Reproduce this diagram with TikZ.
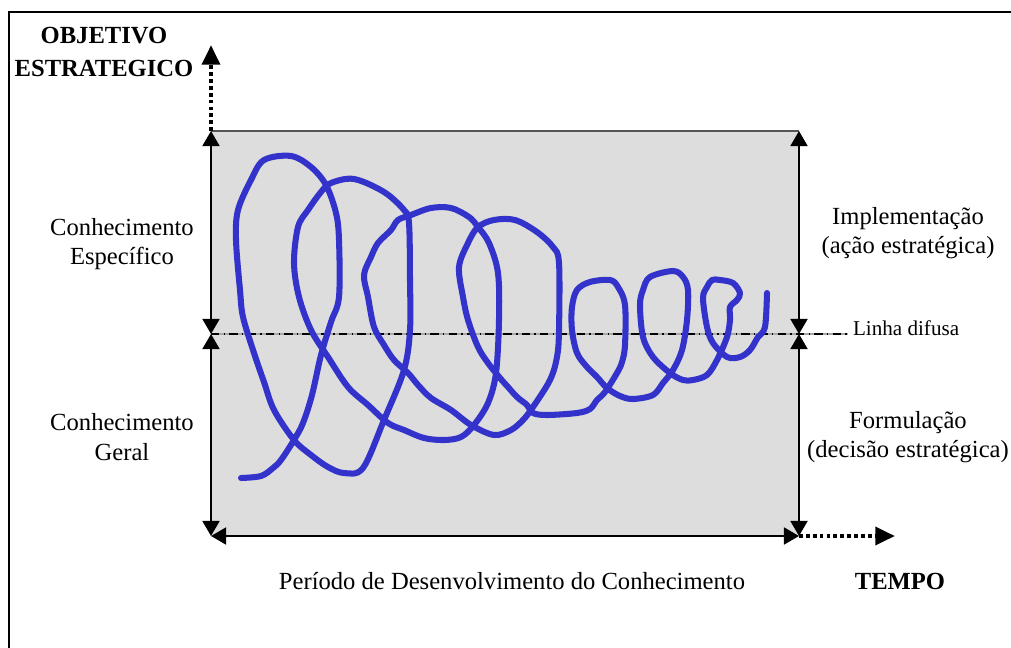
\documentclass[tikz,border=0pt]{standalone}
\usepackage{fontspec}
\setmainfont{Liberation Serif}
\usetikzlibrary{arrows.meta, positioning}
\definecolor{coilblue}{HTML}{3333CC}
\definecolor{panel}{HTML}{DDDDDD}
\definecolor{edge}{HTML}{555555}
\definecolor{fuzzy}{HTML}{A8A8A8}

\begin{document}
\begin{tikzpicture}[x=0.025cm, y=-0.025cm,
  lbl/.style={align=center, inner sep=0pt, font=\fontsize{17.5}{21}\selectfont},
  arr/.style={{Triangle[length=10.7pt,width=12pt]}-{Triangle[length=10.7pt,width=12pt]}, line width=1.6pt},
  dotarr/.style={-{Triangle[length=14pt,width=12.5pt]}, line width=3.3pt, dash pattern=on 2.7pt off 2.2pt},
  coil/.style={coilblue, line width=4.3pt, line join=round, line cap=round}]

  \useasboundingbox (0,0) rectangle (1011,648);

  % outer frame
  \draw[line width=1.4pt] (9,670) -- (9,12) -- (1030,12);

  % corners of the panel
  \coordinate (tl) at (211,131);
  \coordinate (tr) at (799,131);
  \coordinate (bl) at (211,536);
  \coordinate (br) at (799,536);
  \coordinate (ml) at (211,334);
  \coordinate (mr) at (799,334);
  \coordinate (lend) at (848,334);
  \coordinate (goal) at (211,45);
  \coordinate (time) at (895,536);

  \fill[panel] (tl) rectangle (br);
  \draw[edge, line width=0.8pt] (tl) -- (tr);

  % fuzzy line
  \draw[fuzzy, line width=0.8pt] (ml) -- (lend);
  \draw[line width=0.8pt, dash pattern=on 6pt off 3pt on 1pt off 3pt] (ml) -- (lend);

  % knowledge coil
  \draw[coil] plot[smooth, tension=0.55] coordinates {
    (241,478) (261,476) (273,468) (281,460) (294,440) (303,423) (312,395)
    (321,355) (331,322) (339,297) (339,240) (336,213) (326,185) (311,167)
    (291,156) (264,160) (251,180) (238,210) (236,240) (240,290) (243,317)
    (254,353) (264,382) (274,410) (294,440) (311,455) (328,467) (344,473)
    (363,468) (384,420) (404,370) (410,330) (410,280) (409,223) (404,210)
    (384,192) (354,179) (331,183) (321,192) (308,210) (298,227) (294,263)
    (299,297) (311,330) (328,357) (348,387) (368,405) (388,423) (404,430)
    (424,438) (444,440) (461,437) (474,425) (488,403) (496,373) (499,320)
    (498,273) (489,243) (478,227) (469,217) (451,208) (431,208) (411,215)
    (398,220) (391,230) (378,243) (371,257) (364,275) (368,297) (374,327)
    (384,345) (394,360) (408,373) (418,385) (431,398) (451,410) (471,425)
    (494,435) (511,430) (523,420) (533,407) (550,380) (557,357) (559,330)
    (559,263) (553,247) (537,232) (515,220) (494,220) (478,227) (468,243)
    (459,267) (463,297) (468,320) (478,347) (488,363) (500,378) (508,387)
    (517,397) (527,405) (533,413) (547,415) (577,413) (590,409) (597,400)
    (605,392) (617,373) (622,362) (625,345) (625,305) (618,287) (610,280)
    (590,282) (577,290) (572,307) (572,330) (577,353) (587,367) (597,377)
    (607,388) (620,396) (633,399) (653,395) (663,383) (673,370) (682,350)
    (687,320) (688,290) (683,277) (673,271) (650,277) (643,290) (640,305)
    (643,337) (653,357) (670,373) (683,380) (693,380) (707,375) (717,360)
    (727,337) (730,320) (730,307) (737,300) (740,293) (733,283) (720,280)
    (712,280) (707,287) (703,298) (707,327) (713,343) (727,357) (740,357)
    (750,350) (758,337) (765,327) (767,293)};

  % axes and ranges
  \draw[arr] (ml) -- (tl);
  \draw[arr] (ml) -- (bl);
  \draw[arr] (mr) -- (tr);
  \draw[arr] (mr) -- (br);
  \draw[arr] (bl) -- (br);
  \draw[dotarr] (tl) -- (goal);
  \draw[dotarr] (br) -- (time);

  % labels
  \node[lbl, font=\fontsize{17.5}{23.5}\selectfont\bfseries] (goallbl) at (104,52) {OBJETIVO\\ESTRATEGICO};
  \node[lbl] (spec) at (122,244) {Conhecimento\\Específico};
  \node[lbl] (gen) at (122,437) {Conhecimento\\Geral};
  \node[lbl] (impl) at (908,233) {Implementação\\(ação estratégica)};
  \node[lbl] (form) at (908,437) {Formulação\\(decisão estratégica)};
  \node[lbl, font=\fontsize{15}{18}\selectfont, anchor=west, right=0.12cm of lend, yshift=0.15cm] (fuzzylbl) {Linha difusa};
  \node[lbl] (period) at (512,581) {Período de Desenvolvimento do Conhecimento};
  \node[lbl, font=\fontsize{17.5}{21}\selectfont\bfseries] (tempo) at (900,581) {TEMPO};
\end{tikzpicture}
\end{document}
